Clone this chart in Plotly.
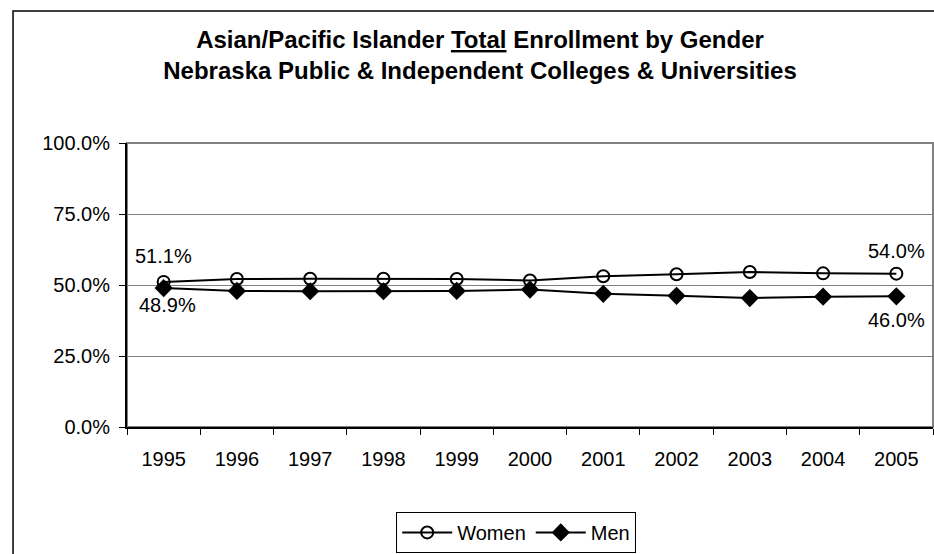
import plotly.graph_objects as go

years = ['1995', '1996', '1997', '1998', '1999', '2000', '2001', '2002', '2003', '2004', '2005']
women = [51.1, 52.1, 52.2, 52.2, 52.1, 51.6, 53.1, 53.8, 54.6, 54.1, 54.0]
men = [48.9, 47.9, 47.8, 47.8, 47.9, 48.4, 46.9, 46.2, 45.4, 45.9, 46.0]
y_ticks = [0, 25, 50, 75, 100]

FONT = 'Arial, Liberation Sans, sans-serif'

fig = go.Figure()
fig.add_trace(
    go.Scatter(
        x=years,
        y=women,
        name='Women',
        mode='lines+markers',
        line=dict(color='black', width=2),
        marker=dict(symbol='circle-open', size=12, color='black', line=dict(width=2))
    )
)
fig.add_trace(
    go.Scatter(
        x=years,
        y=men,
        name='Men',
        mode='lines+markers',
        line=dict(color='black', width=2),
        marker=dict(symbol='diamond', size=14, color='black')
    )
)

# end-point labels (x given as category index)
first, last = 0, len(years) - 1
labels = [
    (first, women[first], 0, 26),
    (first, men[first], 4, -17),
    (last, women[last], 0, 23),
    (last, men[last], 0, -24),
]
for x, y, xs, ys in labels:
    fig.add_annotation(x=x, y=y, text='{:.1f}%'.format(y), showarrow=False,
                       xref='x', yref='y',
                       xshift=xs, yshift=ys, font=dict(size=20, color='black', family=FONT))

# plot area border and chart border
fig.add_shape(type='rect', xref='paper', yref='paper', x0=0, x1=1, y0=0, y1=1,
              line=dict(color='#808080', width=2), layer='below')
fig.add_shape(type='rect', xref='paper', yref='paper', x0=-0.1414, x1=1.05, y0=-0.6, y1=1.465,
              line=dict(color='black', width=1.5), layer='below')

fig.update_layout(
    width=934,
    height=554,
    margin=dict(l=127, r=1, t=143, b=127),
    paper_bgcolor='white',
    plot_bgcolor='white',
    font=dict(family=FONT, size=20, color='black'),
    title=dict(
        text='<b>Asian/Pacific Islander <u>Total</u> Enrollment by Gender<br>'
             'Nebraska Public & Independent Colleges & Universities</b>',
        x=0.438, xref='paper', xanchor='center',
        y=1 - 48 / 554, yref='container', yanchor='middle',
        font=dict(size=24, family=FONT, color='black')
    ),
    showlegend=True,
    legend=dict(
        orientation='h',
        x=0.334, xanchor='left',
        y=-0.299, yanchor='top',
        bordercolor='black', borderwidth=1,
        font=dict(size=20, family=FONT),
        itemwidth=50,
    ),
    xaxis=dict(
        type='category',
        range=[-0.5, 10.5],
        tickson='boundaries',
        ticks='outside', ticklen=6, tickcolor='black',
        showline=True, linecolor='black', linewidth=2,
        showgrid=False,
        ticklabelstandoff=13,
    ),
    yaxis=dict(
        range=[0, 100],
        tickmode='array',
        tickvals=y_ticks,
        ticktext=['{:.1f}%'.format(v) for v in y_ticks],
        ticks='outside', ticklen=6, tickcolor='black',
        showline=True, linecolor='black', linewidth=2,
        showgrid=True, gridcolor='#808080', gridwidth=1,
        zeroline=False,
        ticklabelstandoff=5,
    ),
)

fig.write_html('out.html', config={'displayModeBar': False},
               post_script="document.body.style.margin='0';")
